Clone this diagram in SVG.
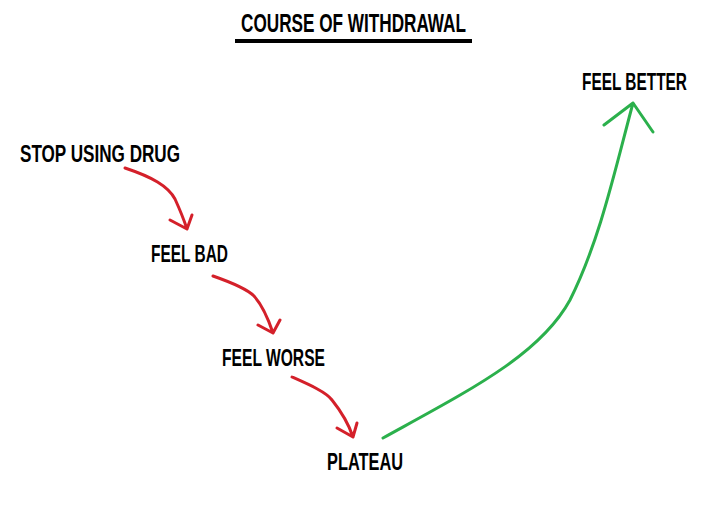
<svg xmlns="http://www.w3.org/2000/svg" width="722" height="505" viewBox="0 0 722 505">
<style>
text{font-family:"Liberation Sans","DejaVu Sans",sans-serif;font-weight:bold;fill:#000}
.lbl{font-size:23px}
.red{fill:none;stroke:#d4202a;stroke-width:3;stroke-linecap:round;stroke-linejoin:round}
.grn{fill:none;stroke:#2bb04c;stroke-width:3;stroke-linecap:round;stroke-linejoin:round}
</style>
<rect width="722" height="505" fill="#fff"/>
<g id="title">
<text x="241" y="32" font-size="26" textLength="225" lengthAdjust="spacingAndGlyphs">COURSE OF WITHDRAWAL</text>
<rect x="235" y="39" width="237" height="4" fill="#000"/>
</g>
<g id="stop"><text class="lbl" x="20" y="162" textLength="160" lengthAdjust="spacingAndGlyphs">STOP USING DRUG</text></g>
<g id="bad"><text class="lbl" x="151" y="262" textLength="77" lengthAdjust="spacingAndGlyphs">FEEL BAD</text></g>
<g id="worse"><text class="lbl" x="222" y="366" textLength="103" lengthAdjust="spacingAndGlyphs">FEEL WORSE</text></g>
<g id="plateau"><text class="lbl" x="327" y="470" textLength="76" lengthAdjust="spacingAndGlyphs">PLATEAU</text></g>
<g id="better"><text class="lbl" x="582" y="90" textLength="105" lengthAdjust="spacingAndGlyphs">FEEL BETTER</text></g>
<g id="connectors">
<path class="red" d="M125,168 C152,177 168,186 175,199 C180,210 184,220 187,229 M170,220 L187,229 L192,215"/>
<path class="red" d="M213,276 C233,283 248,290 254,296 C262,305 268,318 273,333 M258,325 L273,333 L280,320"/>
<path class="red" d="M292,377 C310,385 326,392 332,400 C340,410 348,422 353,437 M337,428 L353,437 L357,423"/>
<path class="grn" d="M383,438 C470,390 540,355 570,300 C600,240 615,170 633,103 M604,125 L633,103 L653,132"/>
</g>
</svg>
